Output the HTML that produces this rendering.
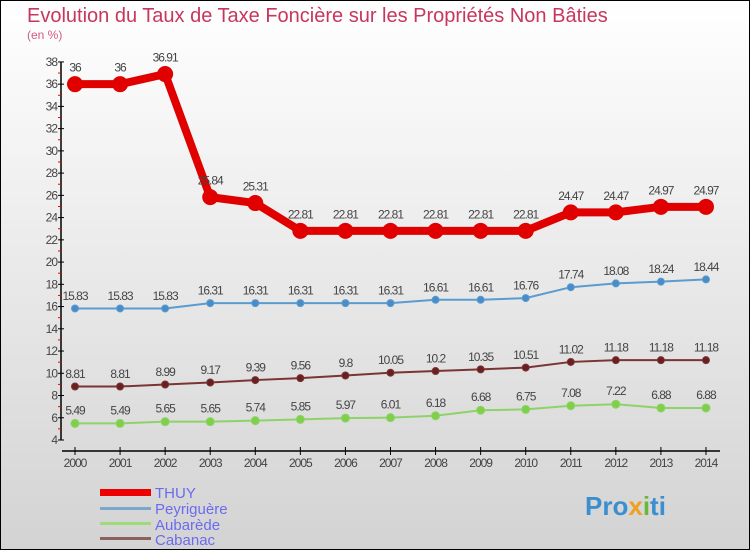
<!DOCTYPE html>
<html><head><meta charset="utf-8"><style>
body{margin:0}
#c{width:750px;height:550px;position:relative;box-sizing:border-box;border:1px solid #000;background:linear-gradient(#ffffff,#d3d3d3);font-family:"Liberation Sans",sans-serif;overflow:hidden}
</style></head><body>
<div id="c">
<svg id="s" width="748" height="548" viewBox="1 1 748 548" style="position:absolute;left:0;top:0">
<text x="27" y="22" font-size="20" fill="#c8365e">Evolution du Taux de Taxe Foncière sur les Propriétés Non Bâties</text>
<text x="27" y="39" font-size="12" fill="#d05c80">(en %)</text>
<g id="axes"></g><g id="series"></g>
<g>
<rect x="100" y="489" width="51" height="7" fill="#e00"/>
<text x="155" y="498" font-size="15" fill="#6b6bf0">THUY</text>
<rect x="100" y="507" width="51" height="3" fill="#7aa8cc"/>
<text x="155" y="514" font-size="15" fill="#6b6bf0">Peyriguère</text>
<rect x="100" y="522" width="51" height="3" fill="#9edc7a"/>
<text x="155" y="530" font-size="15" fill="#6b6bf0">Aubarède</text>
<rect x="100" y="537" width="51" height="3" fill="#8a6060"/>
<text x="155" y="545" font-size="15" fill="#6b6bf0">Cabanac</text>
</g>
<text x="585" y="515" font-size="26" font-weight="bold" fill="#3a8fd0">Pro<tspan fill="#f0a020">x</tspan><tspan fill="#6ab83a">i</tspan>ti</text>
</svg>
</div>
<script>
const years=[2000,2001,2002,2003,2004,2005,2006,2007,2008,2009,2010,2011,2012,2013,2014];
const thuy=[36,36,36.91,25.84,25.31,22.81,22.81,22.81,22.81,22.81,22.81,24.47,24.47,24.97,24.97];
const peyriguere=[15.83,15.83,15.83,16.31,16.31,16.31,16.31,16.31,16.61,16.61,16.76,17.74,18.08,18.24,18.44];
const aubarede=[5.49,5.49,5.65,5.65,5.74,5.85,5.97,6.01,6.18,6.68,6.75,7.08,7.22,6.88,6.88];
const cabanac=[8.81,8.81,8.99,9.17,9.39,9.56,9.8,10.05,10.2,10.35,10.51,11.02,11.18,11.18,11.18];
const yTicks=[4,6,8,10,12,14,16,18,20,22,24,26,28,30,32,34,36,38];
const NS="http://www.w3.org/2000/svg";
const x=i=>75+i*45.07;
const y=v=>440-(v-4)*11.12;
function mk(t,a,p){const e=document.createElementNS(NS,t);for(const k in a)e.setAttribute(k,a[k]);p.appendChild(e);return e;}
const ax=document.getElementById('axes'),sr=document.getElementById('series');
const yl=mk('line',{x1:61,y1:y(38),x2:61,y2:440,stroke:'#000','stroke-width':1.5},ax);


yTicks.forEach((v,k)=>{
 const tk=mk('line',{x1:58,y1:y(v),x2:64,y2:y(v),stroke:'#000'},ax);
 
 
 if(k<yTicks.length-1){
  const mt=mk('line',{x1:58,y1:y(v+1),x2:61,y2:y(v+1),stroke:'#e00'},ax);
  
  
 }
 const t=mk('text',{x:57,y:y(v)+4,'font-size':12,'text-anchor':'end',fill:'#444','letter-spacing':'-1'},ax);
 t.textContent=v;
 
 
});
const xl=mk('line',{x1:62,y1:451,x2:720,y2:451,stroke:'#000','stroke-width':1.5},ax);


years.forEach((yr,i)=>{
 const tk=mk('line',{x1:x(i),y1:447,x2:x(i),y2:455,stroke:'#000'},ax);
 
 
 const t=mk('text',{x:x(i),y:467,'font-size':12,'text-anchor':'middle',fill:'#444','letter-spacing':'-1'},ax);
 t.textContent=yr;
 
 
});
function series(d,name,col,dot,w,r){
 const g=mk('g',{},sr);
 
 
 const pl=mk('polyline',{points:d.map((v,i)=>x(i)+','+y(v)).join(' '),fill:'none',stroke:col,'stroke-width':w,'stroke-linejoin':'round'},g);
 
 
 d.forEach((v,i)=>{
  const c=mk('circle',{cx:x(i),cy:y(v),r:r,fill:dot,stroke:col,'stroke-width':1},g);
  
  
  const t=mk('text',{x:x(i),y:y(v)-r-5,'font-size':12,'text-anchor':'middle',fill:'#444','letter-spacing':'-1'},g);
  t.textContent=v;
  
  
 });
}
series(aubarede,'aubarede','#8fd26a','#7ed04a',2,4);
series(cabanac,'cabanac','#7a3434','#6a2020',2,3.5);
series(peyriguere,'peyriguere','#5b9bd0','#4a8cc8',2,3.5);
series(thuy,'thuy','#e00000','#e00000',8,7.5);
</script>
</body></html>
